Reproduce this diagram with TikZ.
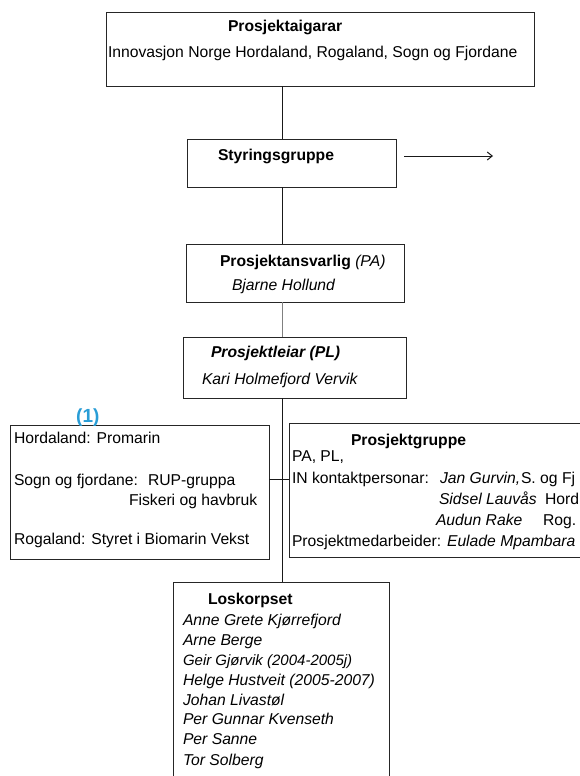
\documentclass[tikz,border=0pt]{standalone}
\usepackage{fontspec}
\setmainfont{Liberation Sans}
\usetikzlibrary{arrows.meta,calc}
\definecolor{refblue}{RGB}{41,157,214}
\begin{document}
\begin{tikzpicture}[x=1pt,y=-1pt,
  box/.style={draw=black!85, line width=1pt, rectangle, inner sep=0pt, outer sep=0pt},
  txt/.style={anchor=base west, inner sep=0pt, outer sep=0pt, font=\fontsize{15.7}{18}\selectfont},
  link/.style={draw=black!90, line width=1pt},
  graylink/.style={draw=black!50, line width=1.2pt},
]
\useasboundingbox (0,0) rectangle (580,776);
\fill[white] (0,0) rectangle (580,776);
\clip (0,0) rectangle (580,776);

% spine
\coordinate (spine) at (282.5,0);

% boxes
\node[box, minimum width=428, minimum height=73] (own) at (320,49.5) {};
\node[box, minimum width=209, minimum height=48] (sty) at (291.5,163) {};
\node[box, minimum width=218, minimum height=58] (pa) at (295,273) {};
\node[box, minimum width=223, minimum height=61] (pl) at (294.5,367.5) {};
\node[box, minimum width=259, minimum height=134] (ref) at (139.5,492) {};
\node[box, minimum width=351, minimum height=134] (grp) at (464.5,490) {};
\node[box, minimum width=216, minimum height=230] (los) at (281,697) {};

% texts: owners
\node[txt, font=\fontsize{15.7}{18}\selectfont\bfseries] (ownT) at (228,32) {Prosjektaigarar};
\node[txt] (ownL) at (108,58) {Innovasjon Norge Hordaland, Rogaland, Sogn og Fjordane};

% steering group
\node[txt, font=\fontsize{15.7}{18}\selectfont\bfseries] (styT) at (218,160) {Styringsgruppe};
\coordinate (arrStart) at (404,156);
\coordinate (arrEnd) at (493,156);
\draw[link, -{Straight Barb[length=5pt,width=8pt]}] (arrStart) -- (arrEnd);

% PA
\node[txt] (paT) at (220,266) {\textbf{Prosjektansvarlig} \textit{(PA)}};
\node[txt] (paN) at (232,290) {\textit{Bjarne Hollund}};

% PL
\node[txt] (plT) at (211,357) {\textbf{\textit{Prosjektleiar (PL)}}};
\node[txt] (plN) at (202,384) {\textit{Kari Holmefjord Vervik}};

% reference groups
\node[anchor=base west, inner sep=0pt, text=refblue, font=\fontsize{19}{22}\selectfont\bfseries] (one) at (76,422) {(1)};
\node[txt] (r1) at (14,443) {Hordaland: Promarin};
\node[txt] (r2) at (14,485) {Sogn og fjordane:};
\node[txt] (r2b) at (148,485) {RUP-gruppa};
\node[txt] (r3) at (129,505) {Fiskeri og havbruk};
\node[txt] (r4) at (14,544) {Rogaland: Styret i Biomarin Vekst};

% project group
\node[txt, font=\fontsize{15.7}{18}\selectfont\bfseries] (gT) at (351,445) {Prosjektgruppe};
\node[txt] (g1) at (292,461) {PA, PL,};
\node[txt] (g2) at (292,483) {IN kontaktpersonar:};
\node[txt] (g2n) at (440,483) {\textit{Jan Gurvin,}};
\node[txt] (g2b) at (521,483) {S. og Fj};
\node[txt] (g3) at (439,504) {\textit{Sidsel Lauvås}};
\node[txt] (g3b) at (545,504) {Hord};
\node[txt] (g4) at (436,525) {\textit{Audun Rake}};
\node[txt] (g4b) at (543,525) {Rog.};
\node[txt] (g5) at (292,546) {Prosjektmedarbeider: \textit{Eulade Mpambara}};

% Loskorpset
\node[txt, font=\fontsize{15.7}{18}\selectfont\bfseries] (lT) at (208,604) {Loskorpset};
\node[txt] (l1) at (183,625) {\textit{Anne Grete Kjørrefjord}};
\node[txt] (l2) at (183,645) {\textit{Arne Berge}};
\node[txt, font=\fontsize{15}{18}\selectfont] (l3) at (183,665) {\textit{Geir Gjørvik (2004-2005j)}};
\node[txt] (l4) at (183,685) {\textit{Helge Hustveit (2005-2007)}};
\node[txt] (l5) at (183,705) {\textit{Johan Livastøl}};
\node[txt] (l6) at (183,724) {\textit{Per Gunnar Kvenseth}};
\node[txt] (l7) at (183,744) {\textit{Per Sanne}};
\node[txt] (l8) at (183,765) {\textit{Tor Solberg}};

% connectors
\draw[link] (own.south -| spine) -- (sty.north -| spine);
\draw[link] (sty.south -| spine) -- (pa.north -| spine);
\draw[graylink] (pa.south -| spine) -- (pl.north -| spine);
\draw[link] (pl.south -| spine) -- (los.north -| spine);
\draw[link] (ref.east |- 0,479) -- (grp.west |- 0,479);
\end{tikzpicture}
\end{document}
